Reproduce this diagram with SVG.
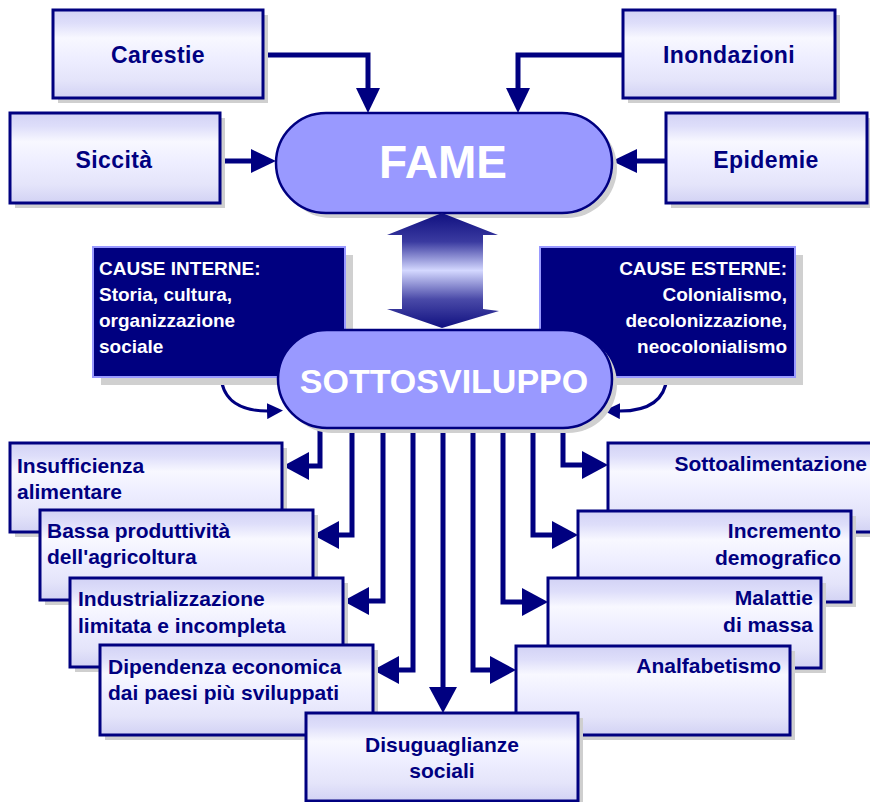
<svg xmlns="http://www.w3.org/2000/svg" width="870" height="802" viewBox="0 0 870 802">
<style>
.box{stroke:#000080;stroke-width:3;fill:url(#boxg)}
.sh{fill:#cfcfcf}
.t{font-family:"Liberation Sans",Arial,sans-serif;font-weight:bold;font-size:21px;fill:#000080}
.tt{font-family:"Liberation Sans",Arial,sans-serif;font-weight:bold;font-size:23px;letter-spacing:0.4px;fill:#000080}
.ct{font-family:"Liberation Sans",Arial,sans-serif;font-weight:bold;font-size:19px;fill:#ffffff}
.pill{fill:#9999ff;stroke:#000080;stroke-width:2.5}
.pt{font-family:"Liberation Sans",Arial,sans-serif;font-weight:bold;fill:#ffffff;text-anchor:middle}
.cause{fill:#000080;stroke:#9999ff;stroke-width:2}
.ln{fill:none;stroke:#000080;stroke-width:5}
.cv{fill:none;stroke:#000080;stroke-width:3}
</style>
<defs>
<linearGradient id="boxg" x1="0" y1="0" x2="0" y2="1">
<stop offset="0" stop-color="#d2d2f5"/>
<stop offset="0.15" stop-color="#dedefa"/>
<stop offset="0.32" stop-color="#f8f8ff"/>
<stop offset="0.55" stop-color="#eeeeff"/>
<stop offset="0.8" stop-color="#e4e4fa"/>
<stop offset="1" stop-color="#d2d2f4"/>
</linearGradient>
<linearGradient id="dblg" x1="0" y1="0" x2="0" y2="1">
<stop offset="0" stop-color="#101080"/>
<stop offset="0.25" stop-color="#3a3aa0"/>
<stop offset="0.5" stop-color="#d4d8ff"/>
<stop offset="0.75" stop-color="#4a4aa8"/>
<stop offset="1" stop-color="#101080"/>
</linearGradient>
<marker id="ah" markerUnits="userSpaceOnUse" markerWidth="26" markerHeight="28" refX="6" refY="14" orient="auto" viewBox="0 0 26 28">
<path d="M0,0 L26,14 L0,28 z" fill="#000080"/>
</marker>
<marker id="ahs" markerUnits="userSpaceOnUse" markerWidth="25" markerHeight="24" refX="6" refY="12" orient="auto" viewBox="0 0 25 24">
<path d="M0,0 L25,12 L0,24 z" fill="#000080"/>
</marker>
<marker id="ahc" markerUnits="userSpaceOnUse" markerWidth="16" markerHeight="16" refX="4" refY="8" orient="auto" viewBox="0 0 16 16">
<path d="M0,0 L16,8 L0,16 z" fill="#000080"/>
</marker>
</defs>

<g id="connectors">
<path class="ln" d="M263,55 H368 V94" marker-end="url(#ahs)"/>
<path class="ln" d="M623,55 H518 V94" marker-end="url(#ahs)"/>
<path class="ln" d="M220,161 H257" marker-end="url(#ahs)"/>
<path class="ln" d="M666,161 H631" marker-end="url(#ahs)"/>
<path class="ln" d="M320,420 V466 H303" marker-end="url(#ah)"/>
<path class="ln" d="M352,420 V535 H333" marker-end="url(#ah)"/>
<path class="ln" d="M383,420 V601 H363" marker-end="url(#ah)"/>
<path class="ln" d="M413,420 V670 H393" marker-end="url(#ah)"/>
<path class="ln" d="M443,420 V693" marker-end="url(#ah)"/>
<path class="ln" d="M473,420 V670 H496" marker-end="url(#ah)"/>
<path class="ln" d="M503,420 V602 H528" marker-end="url(#ah)"/>
<path class="ln" d="M533,420 V535 H558" marker-end="url(#ah)"/>
<path class="ln" d="M563,420 V465 H588" marker-end="url(#ah)"/>
<path class="cv" d="M221,377 C223,400 240,412 271,411" marker-end="url(#ahc)"/>
<path class="cv" d="M667,377 C665,400 648,412 616,411" marker-end="url(#ahc)"/>
</g>

<g id="carestie">
<rect class="sh" x="58" y="15" width="210" height="88"/>
<rect class="box" x="53" y="10" width="210" height="88"/>
<text class="tt" x="158" y="63" text-anchor="middle">Carestie</text>
</g>
<g id="inondazioni">
<rect class="sh" x="628" y="15" width="212" height="88"/>
<rect class="box" x="623" y="10" width="212" height="88"/>
<text class="tt" x="729" y="63" text-anchor="middle">Inondazioni</text>
</g>
<g id="siccita">
<rect class="sh" x="15" y="118" width="210" height="90"/>
<rect class="box" x="10" y="113" width="210" height="90"/>
<text class="tt" x="114" y="168" text-anchor="middle">Siccità</text>
</g>
<g id="epidemie">
<rect class="sh" x="671" y="118" width="210" height="90"/>
<rect class="box" x="666" y="113" width="201" height="90"/>
<text class="tt" x="766" y="168" text-anchor="middle">Epidemie</text>
</g>

<g id="fame">
<rect x="281" y="118" width="336" height="100" rx="50" ry="50" fill="#d0d0d0"/>
<rect class="pill" x="276" y="113" width="336" height="100" rx="50" ry="50"/>
<text class="pt" x="443" y="178" font-size="46">FAME</text>
</g>

<g id="double-arrow">
<polygon points="442,213 498,235 483,235 483,309 499,311 442,328 387,309 402,309 402,235 387,235" fill="url(#dblg)"/>
</g>

<g id="cause-interne">
<rect x="101" y="255" width="252" height="130" fill="#d0d0d0"/>
<rect class="cause" x="93" y="247" width="252" height="130"/>
<text class="ct" x="99" y="275">CAUSE INTERNE:</text>
<text class="ct" x="99" y="301">Storia, cultura,</text>
<text class="ct" x="99" y="327">organizzazione</text>
<text class="ct" x="99" y="353">sociale</text>
</g>
<g id="cause-esterne">
<rect x="548" y="255" width="255" height="130" fill="#d0d0d0"/>
<rect class="cause" x="540" y="247" width="255" height="130"/>
<text class="ct" x="787" y="275" text-anchor="end">CAUSE ESTERNE:</text>
<text class="ct" x="787" y="301" text-anchor="end">Colonialismo,</text>
<text class="ct" x="787" y="327" text-anchor="end">decolonizzazione,</text>
<text class="ct" x="787" y="353" text-anchor="end">neocolonialismo</text>
</g>

<g id="sottosviluppo">
<rect x="283" y="335" width="334" height="98" rx="49" ry="49" fill="#d0d0d0"/>
<rect class="pill" x="278" y="330" width="334" height="98" rx="49" ry="49"/>
<text class="pt" x="444" y="393" font-size="34">SOTTOSVILUPPO</text>
</g>

<g id="sottoalimentazione">
<rect class="sh" x="613" y="448" width="275" height="89"/>
<rect class="box" x="608" y="443" width="275" height="89"/>
<text class="t" x="867" y="471" text-anchor="end">Sottoalimentazione</text>
</g>
<g id="incremento">
<rect class="sh" x="583" y="516" width="273" height="91"/>
<rect class="box" x="578" y="511" width="273" height="91"/>
<text class="t" x="841" y="538" text-anchor="end">Incremento</text>
<text class="t" x="841" y="565" text-anchor="end">demografico</text>
</g>
<g id="malattie">
<rect class="sh" x="553" y="583" width="273" height="90"/>
<rect class="box" x="548" y="578" width="273" height="90"/>
<text class="t" x="813" y="605" text-anchor="end">Malattie</text>
<text class="t" x="813" y="632" text-anchor="end">di massa</text>
</g>
<g id="analfabetismo">
<rect class="sh" x="521" y="651" width="274" height="89"/>
<rect class="box" x="516" y="646" width="274" height="89"/>
<text class="t" x="781" y="673" text-anchor="end">Analfabetismo</text>
</g>

<g id="insufficienza">
<rect class="sh" x="15" y="448" width="272" height="89"/>
<rect class="box" x="10" y="443" width="272" height="89"/>
<text class="t" x="17" y="473">Insufficienza</text>
<text class="t" x="17" y="499">alimentare</text>
</g>
<g id="bassa">
<rect class="sh" x="45" y="515" width="273" height="90"/>
<rect class="box" x="40" y="510" width="273" height="90"/>
<text class="t" x="47" y="538">Bassa produttività</text>
<text class="t" x="47" y="564">dell'agricoltura</text>
</g>
<g id="industrializzazione">
<rect class="sh" x="75" y="583" width="273" height="89"/>
<rect class="box" x="70" y="578" width="273" height="89"/>
<text class="t" x="78" y="606">Industrializzazione</text>
<text class="t" x="78" y="633">limitata e incompleta</text>
</g>
<g id="dipendenza">
<rect class="sh" x="105" y="650" width="273" height="90"/>
<rect class="box" x="100" y="645" width="273" height="90"/>
<text class="t" x="108" y="674">Dipendenza economica</text>
<text class="t" x="108" y="700">dai paesi più sviluppati</text>
</g>
<g id="disuguaglianze">
<rect class="sh" x="311" y="718" width="272" height="90"/>
<rect class="box" x="306" y="713" width="272" height="88"/>
<text class="t" x="442" y="752" text-anchor="middle">Disuguaglianze</text>
<text class="t" x="442" y="778" text-anchor="middle">sociali</text>
</g>
</svg>
